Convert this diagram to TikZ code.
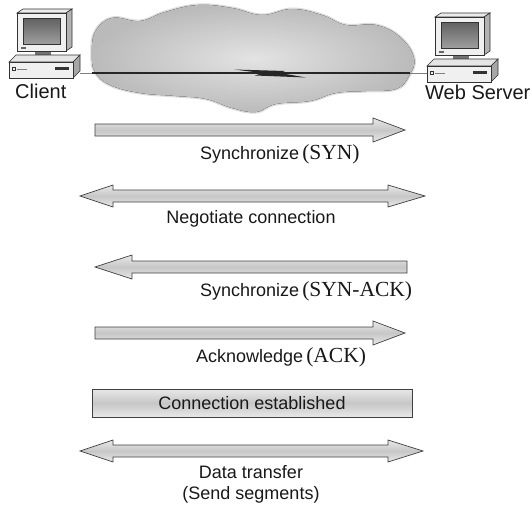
\documentclass[tikz,border=0pt]{standalone}
\usepackage{fontspec}
\setmainfont{Liberation Sans}
\newfontfamily\timesfont{Liberation Serif}
\newcommand\tagfont{\timesfont\fontsize{21.5}{24}\selectfont}

\tikzset{
  pcline/.style={draw=black!80, line width=0.6pt},
  blockarrow/.style={draw=black!75, line width=0.7pt, line join=miter,
    top color=black!9, bottom color=black!9, middle color=black!22},
  lbl/.style={font=\fontsize{18}{20}\selectfont, inner sep=0pt, text=black!90},
  hostlbl/.style={font=\fontsize{20}{22}\selectfont, inner sep=0pt, text=black!90},
  pics/computer/.style={code={
    % monitor stand
    \fill[black!55] (18,41) rectangle (34,47);
    % monitor top and side faces
    \filldraw[pcline, fill=black!8] (0,4) -- (6,0) -- (55,0) -- (49,4) -- cycle;
    \filldraw[pcline, fill=black!30] (49,4) -- (55,0) -- (55,38) -- (49,42) -- cycle;
    % front bezel and screen
    \filldraw[pcline, fill=black!6] (0,4) rectangle (49,42);
    \shade[top color=black!62, bottom color=black!38] (6,9) rectangle (43,35);
    \draw[pcline] (6,9) rectangle (43,35);
    \fill[black!60] (4,38) rectangle (9,40);
    % system unit
    \filldraw[pcline, fill=black!10] (-8,53) -- (-1,46) -- (63,46) -- (56,53) -- cycle;
    \filldraw[pcline, fill=black!35] (56,53) -- (63,46) -- (63,62) -- (56,69) -- cycle;
    \filldraw[pcline, fill=black!6] (-8,53) rectangle (56,69);
    \fill[black!80] (38,58) rectangle (52,61);
    \draw[pcline] (-5,58) rectangle (-2,61);
    \draw[black!50, line width=0.5pt] (0,60) -- (10,60);
  }}
}

\begin{document}
\begin{tikzpicture}[x=1pt, y=-1pt]
  \path[fill=white, use as bounding box] (0,0) rectangle (531,506);

  % network cloud: a soft rim under a shaded body
  \def\cloudpts{(92,55) (95,32) (112,18) (140,21) (165,12) (198,5) (232,8)
      (262,15) (292,9) (322,15) (346,25) (376,25) (400,37) (414,58)
      (409,76) (396,89) (366,91) (336,93) (310,101) (276,104) (256,112)
      (232,108) (206,99) (176,96) (140,93) (110,85) (95,72)}
  \draw[black!14, line width=3pt, fill=black!22]
    plot[smooth cycle, tension=0.7] coordinates {\cloudpts};
  \fill[inner color=black!11, outer color=black!27]
    plot[smooth cycle, tension=0.7] coordinates {\cloudpts};

  % hosts
  \pic (clientpc) at (17,9) {computer};
  \pic (serverpc) at (435,13) {computer};
  \node[hostlbl, anchor=base west] (client) at (15,98) {Client};
  \node[hostlbl, anchor=base west] (server) at (425,99) {Web Server};

  % link through the cloud
  \coordinate (cport) at (80,73);
  \coordinate (sport) at (427,73);
  \coordinate (cloudin) at (92,73);
  \coordinate (cloudout) at (410,73);
  \draw[black!50, line width=0.5pt] (cport) -- (sport);
  \draw[black!85, line width=1.1pt] (cloudin) -- (cloudout);
  \fill[black!85] (234,69.5) -- (285,71) -- (280,73) -- (306,77.5)
    -- (255,75.5) -- (262,73) -- cycle;

  % SYN
  \path[blockarrow] (95,124) -- (373,124) -- (373,118) -- (405,130)
    -- (373,142) -- (373,136) -- (95,136) -- cycle;
  \node[lbl, anchor=base west] (synlbl) at (200,159)
    {Synchronize\hspace{3pt}{\tagfont(SYN)}};

  % negotiation
  \path[blockarrow] (80,196) -- (113,185) -- (113,190) -- (388,190)
    -- (388,185) -- (425,196) -- (388,207) -- (388,202) -- (113,202)
    -- (113,207) -- cycle;
  \node[lbl, anchor=base] (neglbl) at (251,223) {Negotiate connection};

  % SYN-ACK
  \path[blockarrow] (95,267) -- (132,255) -- (132,261) -- (407,261)
    -- (407,273) -- (132,273) -- (132,279) -- cycle;
  \node[lbl, anchor=base west] (sacklbl) at (200,296)
    {Synchronize\hspace{3pt}{\tagfont(SYN-ACK)}};

  % ACK
  \path[blockarrow] (95,327) -- (373,327) -- (373,321) -- (405,333)
    -- (373,345) -- (373,339) -- (95,339) -- cycle;
  \node[lbl, anchor=base west] (acklbl) at (196,362)
    {Acknowledge\hspace{3pt}{\tagfont(ACK)}};

  % established
  \path[blockarrow] (92,389) rectangle (412,417);
  \node[lbl, anchor=base] (estlbl) at (252,409.5) {Connection established};

  % data transfer
  \path[blockarrow] (80,451) -- (113,440) -- (113,445) -- (388,445)
    -- (388,440) -- (423,451) -- (388,462) -- (388,457) -- (113,457)
    -- (113,462) -- cycle;
  \node[lbl, anchor=base] (dtlbl) at (251,478) {Data transfer};
  \node[lbl, anchor=base] (seglbl) at (251,499) {(Send segments)};
\end{tikzpicture}
\end{document}
